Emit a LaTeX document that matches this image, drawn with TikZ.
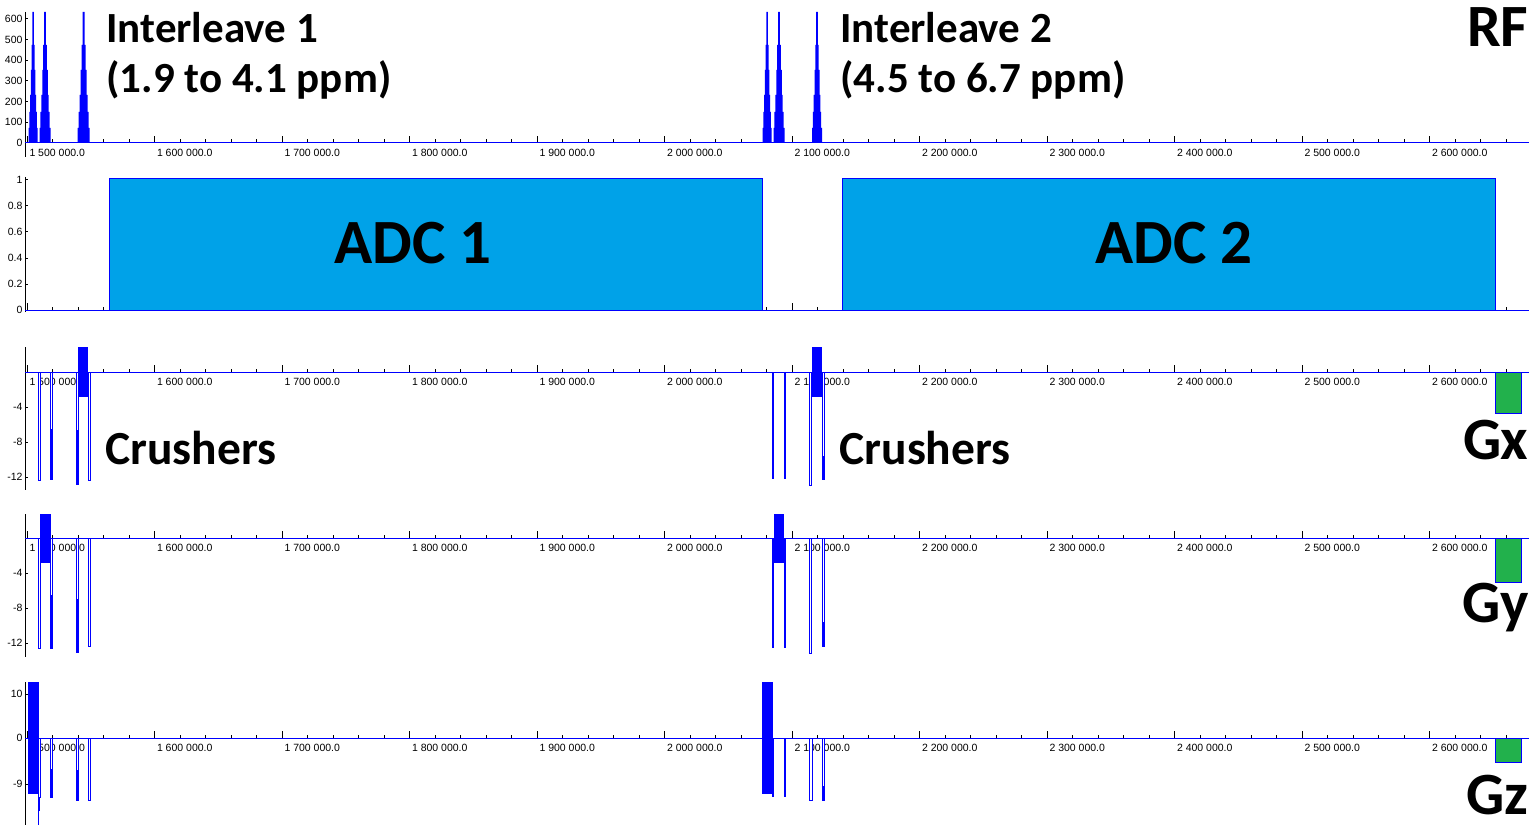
\documentclass[tikz,border=0pt]{standalone}
\usepackage{fontspec}
\usepackage{tikz}
\setmainfont{Carlito}
\newfontfamily\axisfont{Liberation Sans}
\definecolor{adcblue}{HTML}{00A2E8}
\definecolor{gradgreen}{HTML}{22B14C}
\tikzset{
  lbl/.style={font=\fontsize{43}{50}\selectfont\bfseries, inner sep=0pt},
  crlbl/.style={font=\fontsize{47.5}{54}\selectfont\bfseries, inner sep=0pt},
  adclbl/.style={font=\fontsize{63}{70}\selectfont\bfseries, inner sep=0pt},
  chan/.style={font=\fontsize{60}{66}\selectfont\bfseries, inner sep=0pt},
  ticklbl/.style={font=\axisfont\fontsize{10.5}{12}\selectfont, inner sep=0pt},
  gopen/.style={draw=blue, fill=white, line width=1pt},
  gfill/.style={fill=blue},
}

\begin{document}
\begin{tikzpicture}[x=1pt,y=-1pt,line width=1pt]
	  \useasboundingbox (0,0) rectangle (1534,829);
	  % y axes of the five channels
	  \foreach \t/\b in {12/157,177/312,347/490,514/657,682/825}
	    \draw (25,\t) -- (25,\b);
	  % time ticks
	  \foreach \b in {143,310,372,538,738}{
	    \foreach \k in {0,...,58}
	      \draw (27+25.5*\k,\b) -- ++(0,-3.5);
	    \foreach \k in {0,...,11}
	      \draw (27+127.5*\k,\b) -- ++(0,-7);
	  }
	  % time labels
	  \foreach \b in {143,372,538,738}
	    \foreach \lab [count=\i from 0] in {1 500 000.0,1 600 000.0,1 700 000.0,1 800 000.0,1 900 000.0,2 000 000.0,2 100 000.0,2 200 000.0,2 300 000.0,2 400 000.0,2 500 000.0,2 600 000.0}
	      \node[ticklbl,anchor=west] (t\b-\i) at (29+127.5*\i,\b+10) {\lab};
	  % amplitude labels
	  \foreach \v in {0,100,...,600}{
	    \node[ticklbl,anchor=east] (rf\v) at (23,143-0.2067*\v) {\v};
	    \draw (25,143-0.2067*\v) -- ++(3,0);
	  }
	  \foreach \v/\s in {0/0,1/0.2,2/0.4,3/0.6,4/0.8,5/1}{
	    \node[ticklbl,anchor=east] (adc\v) at (23,310-26*\v) {\s};
	    \draw (25,310-26*\v) -- ++(3,0);
	  }
	  \foreach \v in {4,8,12}{
	    \node[ticklbl,anchor=east] (gx\v) at (23,372+8.75*\v) {-\v};
	    \draw (25,372+8.75*\v) -- ++(3,0);
	    \node[ticklbl,anchor=east] (gy\v) at (23,538+8.75*\v) {-\v};
	    \draw (25,538+8.75*\v) -- ++(3,0);
	  }
	  \foreach \y/\s in {694/10,738/0,784/-9}{
	    \node[ticklbl,anchor=east] (gz\y) at (23,\y) {\s};
	    \draw (25,\y) -- ++(3,0);
	  }
	  % baselines
	  \foreach \b in {143,310,372,538,738}
	    \draw[blue] (25,\b) -- (1529,\b);
	  % RF pulses
	  \foreach \c/\w in {33/4.5,45/5.5,83.5/6,767/4.5,779/5.5,817/5}
	    \fill[blue, xshift=\c pt, xscale=\w/6] (-6,143) -- (-6,128) -- (-5,128) -- (-5,112) -- (-4,112) -- (-4,95) -- (-3,95) -- (-3,70) -- (-2,70) -- (-2,45) -- (-1,45) -- (-1,12) -- (1,12) -- (1,45) -- (2,45) -- (2,70) -- (3,70) -- (3,95) -- (4,95) -- (4,112) -- (5,112) -- (5,128) -- (6,128) -- (6,143) -- cycle;
	  % ADC windows
	  \draw[blue, fill=adcblue] (109,179) rectangle (762,310);
	  \draw[blue, fill=adcblue] (842,179) rectangle (1495,310);
	  % Gx
	  \draw[gopen] (38,372) rectangle (40.5,480);
	  \draw[gopen] (50,372) rectangle (52.5,479);
	  \fill[gfill] (50,429) rectangle (52.5,479);
	  \draw[gopen] (76,372) rectangle (78.5,484);
	  \fill[gfill] (76,430) rectangle (78.5,484);
	  \fill[gfill] (78,347) rectangle (88,397);
	  \draw[gopen] (88,372) rectangle (90.5,480);
	  \fill[gfill] (772,372) rectangle (774.3,479);
	  \fill[gfill] (784,372) rectangle (786.3,479);
	  \draw[gopen] (809,372) rectangle (811.7,485);
	  \fill[gfill] (812,347) rectangle (822,397);
	  \draw[gopen] (822,372) rectangle (824.5,479);
	  \fill[gfill] (822,456) rectangle (824.5,479);
	  \draw[blue, fill=gradgreen] (1495,372) rectangle (1521,413);
	  % Gy
	  \fill[gfill] (40,514) rectangle (51,563);
	  \draw[gopen] (38,538) rectangle (40.7,648);
	  \draw[gopen] (50,538) rectangle (52.5,648);
	  \fill[gfill] (50,595) rectangle (52.5,648);
	  \draw[gopen] (76,538) rectangle (78.5,652);
	  \fill[gfill] (76,599) rectangle (78.5,652);
	  \draw[gopen] (88,538) rectangle (90.5,646);
	  \fill[gfill] (774,514) rectangle (784,563);
	  \fill[gfill] (772,538) rectangle (774.3,648);
	  \fill[gfill] (784,538) rectangle (786.3,648);
	  \draw[gopen] (809,538) rectangle (811.7,653);
	  \draw[gopen] (822,538) rectangle (824.5,646);
	  \fill[gfill] (822,622) rectangle (824.5,646);
	  \draw[blue, fill=gradgreen] (1495,538) rectangle (1521,582);
	  % Gz
	  \fill[gfill] (28,682) rectangle (39,794);
	  \draw[gopen] (38,738) rectangle (40.5,797);
	  \fill[gfill] (38,797) rectangle (39.5,811);
	  \draw[blue] (38.7,811) -- (38.7,825);
	  \draw[gopen] (50,738) rectangle (52.5,797);
	  \fill[gfill] (50,769) rectangle (52.5,797);
	  \draw[gopen] (76,738) rectangle (78.5,800);
	  \fill[gfill] (76,770) rectangle (78.5,800);
	  \draw[gopen] (88,738) rectangle (90.5,800);
	  \fill[gfill] (762,682) rectangle (773,794);
	  \fill[gfill] (772,738) rectangle (774.3,797);
	  \fill[gfill] (784,738) rectangle (786.3,797);
	  \draw[gopen] (809,738) rectangle (812,800);
	  \draw[gopen] (822,738) rectangle (824.5,800);
	  \fill[gfill] (822,786) rectangle (824.5,800);
	  \draw[blue, fill=gradgreen] (1495,738) rectangle (1521,762);
	  % annotations
	  \node[lbl,anchor=west] (il1) at (106,28) {Interleave 1};
	  \node[lbl,anchor=west] (ppm1) at (106,80) {(1.9 to 4.1 ppm)};
	  \node[lbl,anchor=west] (il2) at (840,28) {Interleave 2};
	  \node[lbl,anchor=west] (ppm2) at (840,80) {(4.5 to 6.7 ppm)};
	  \node[adclbl] (adcone) at (413,243) {ADC 1};
	  \node[adclbl] (adctwo) at (1174,243) {ADC 2};
	  \node[crlbl,anchor=west] (crush1) at (105,448) {Crushers};
	  \node[crlbl,anchor=west] (crush2) at (839,448) {Crushers};
	  \node[chan,anchor=east] (rf) at (1529,27) {RF};
	  \node[chan,anchor=east] (gx) at (1529,440) {Gx};
	  \node[chan,anchor=east] (gy) at (1529,608) {Gy};
	  \node[chan,anchor=east] (gz) at (1529,795) {Gz};
	\end{tikzpicture}
\end{document}
